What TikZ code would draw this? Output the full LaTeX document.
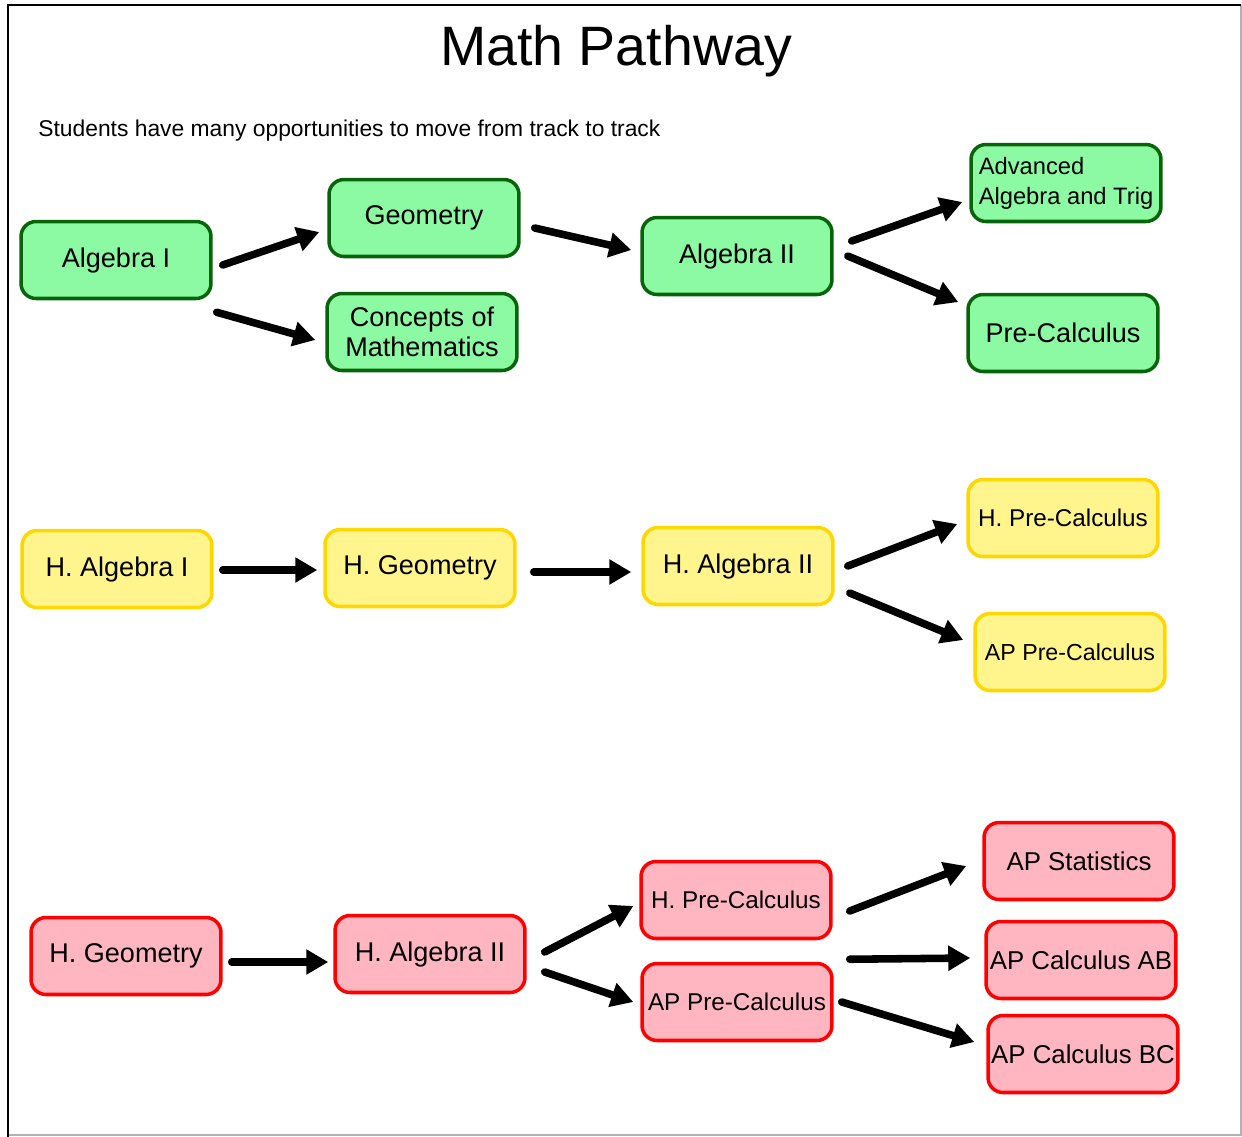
\documentclass[tikz,border=0pt]{standalone}
\usepackage{fontspec}
\setmainfont{Liberation Sans}
\usetikzlibrary{arrows.meta}
\definecolor{grnfill}{RGB}{140,250,162}
\definecolor{grnline}{RGB}{8,100,10}
\definecolor{ylwfill}{RGB}{255,245,140}
\definecolor{ylwline}{RGB}{255,215,0}
\definecolor{redfill}{RGB}{255,182,193}
\definecolor{redline}{RGB}{255,0,0}
\tikzset{
  box/.style={draw,rounded corners=0.3cm,line width=2pt,minimum width=3.8cm,
    minimum height=1.54cm,inner sep=0pt,align=center,
    font=\fontsize{15.4}{17}\selectfont},
  grnbox/.style={box,fill=grnfill,draw=grnline},
  ylwbox/.style={box,fill=ylwfill,draw=ylwline},
  redbox/.style={box,fill=redfill,draw=redline},
  small/.style={font=\fontsize{13.8}{17}\selectfont},
  arr/.style={line width=4.3pt,line cap=round,-{Triangle[length=0.44cm,width=0.48cm]}},
}
\begin{document}
\begin{tikzpicture}[x=0.02cm,y=-0.02cm]
\useasboundingbox (0,0) rectangle (1242,1137);
%
\draw[gray!60,line width=0.6pt] (1241,5) -- (1241,1135) -- (8,1135);
\draw[black,line width=1.2pt] (8,1137) -- (8,5) -- (1241,5);
%
\node [font=\fontsize{31.6}{36}\selectfont] (title) at (616,51) {Math Pathway};
\node [anchor=west,font=\fontsize{13}{15}\selectfont,inner sep=0pt] (note) at (38,131)
  {Students have many opportunities to move from track to track};
%
% regular track
\node [grnbox] (alg1) at (116,260) {Algebra I};
\node [grnbox] (geo)  at (424,218) {Geometry};
\node [grnbox] (com)  at (422,332) {Concepts of\\Mathematics};
\node [grnbox] (alg2) at (737,256) {Algebra II};
\node [grnbox,align=left,font=\fontsize{13.5}{17}\selectfont] (adv) at (1066,183)
  {Advanced\\Algebra and Trig};
\node [grnbox] (pc)   at (1063,333) {Pre-Calculus};
%
\draw[arr] ([shift={(10,5)}]alg1.east) -- ([shift={(-8,14)}]geo.west);
\draw[arr] ([shift={(4,12)}]alg1.south east) -- ([shift={(-10,8)}]com.west);
\draw[arr] ([shift={(14,10)}]geo.east) -- ([shift={(-9,-6)}]alg2.west);
\draw[arr] ([shift={(18,-15)}]alg2.east) -- ([shift={(-7,19)}]adv.west);
\draw[arr] ([shift={(14,0)}]alg2.east) -- ([shift={(-8,-31)}]pc.west);
%
% honors track
\node [ylwbox] (halg1) at (117,569) {H. Algebra I};
\node [ylwbox] (hgeo)  at (420,568) {H. Geometry};
\node [ylwbox] (halg2) at (738,566) {H. Algebra II};
\node [ylwbox,small] (hpc)  at (1063,518) {H. Pre-Calculus};
\node [ylwbox,font=\fontsize{13.2}{17}\selectfont] (appc) at (1070,652) {AP Pre-Calculus};
%
\draw[arr] ([shift={(9,1)}]halg1.east) -- ([shift={(-6,2)}]hgeo.west);
\draw[arr] ([shift={(17,4)}]hgeo.east) -- ([shift={(-10,6)}]halg2.west);
\draw[arr] ([shift={(13,0)}]halg2.east) -- ([shift={(-9,6)}]hpc.west);
\draw[arr] ([shift={(15,27)}]halg2.east) -- ([shift={(-10,-12)}]appc.west);
%
% accelerated track
\node [redbox] (rgeo)  at (126,956) {H. Geometry};
\node [redbox] (ralg2) at (430,954) {H. Algebra II};
\node [redbox,small] (rhpc)  at (736,900) {H. Pre-Calculus};
\node [redbox,small] (rappc) at (737,1002) {AP Pre-Calculus};
\node [redbox,font=\fontsize{14.7}{17}\selectfont] (stat) at (1079,861) {AP Statistics};
\node [redbox,font=\fontsize{14.7}{17}\selectfont] (calab) at (1081,960) {AP Calculus AB};
\node [redbox,font=\fontsize{14.7}{17}\selectfont] (calbc) at (1083,1054) {AP Calculus BC};
%
\draw[arr] ([shift={(9,6)}]rgeo.east) -- ([shift={(-5,8)}]ralg2.west);
\draw[arr] ([shift={(18,-2)}]ralg2.east) -- ([shift={(-6,6)}]rhpc.west);
\draw[arr] ([shift={(18,18)}]ralg2.east) -- ([shift={(-7,0)}]rappc.west);
\draw[arr] ([shift={(17,11)}]rhpc.east) -- ([shift={(-16,5)}]stat.west);
\draw[arr] ([shift={(17,19)}]rhpc.south east) -- ([shift={(-14,-2)}]calab.west);
\draw[arr] ([shift={(8,0)}]rappc.east) -- ([shift={(-12,-12)}]calbc.west);
\end{tikzpicture}
\end{document}
